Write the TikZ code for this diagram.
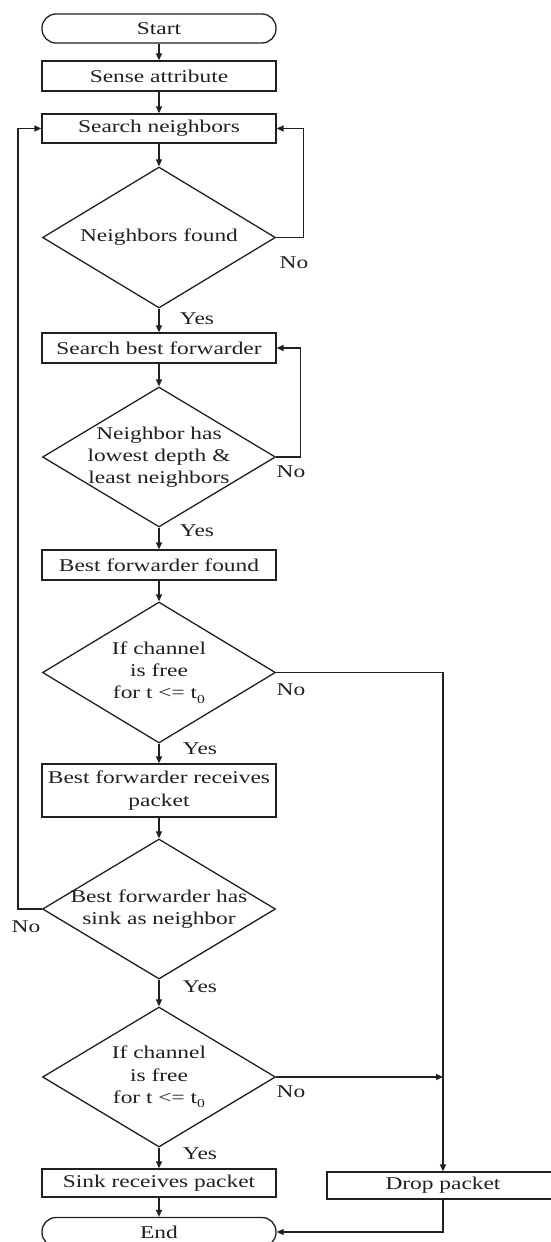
\documentclass[tikz,border=0pt]{standalone}
\usepackage{fontspec}
\setmainfont[FakeStretch=1.3]{Liberation Serif}
\usetikzlibrary{shapes.geometric,arrows.meta}
\definecolor{ink}{HTML}{202020}
\newcommand{\lowsub}[1]{\raisebox{-0.55ex}{\fontsize{12}{12}\selectfont #1}}
\begin{document}
\begin{tikzpicture}[x=1pt,y=-1pt,
  font=\fontsize{18}{22.3}\selectfont,
  base/.style={draw=ink, line width=1.3pt, inner sep=0pt, text=ink},
  procbox/.style={base, rectangle, minimum width=234pt, align=center},
  termbox/.style={base, rectangle, rounded corners=14pt, minimum width=234pt, minimum height=29pt},
  decision/.style={base, diamond, minimum width=233pt, minimum height=140pt},
  lbl/.style={inner sep=0pt, align=center, text=ink},
  flow/.style={draw=ink, line width=1.3pt, -{Triangle[length=7pt,width=6pt]}},
]
\useasboundingbox (0,0) rectangle (551,1242);
\clip (0,0) rectangle (551,1242);

% nodes
\node[termbox] (start) at (159,28.5) {Start};
\node[procbox, minimum height=30pt] (sense) at (159,76) {Sense attribute};
\node[procbox, minimum height=29pt] (sn) at (159,128.5) {Search neighbors};
\node[decision, minimum height=141pt] (d1) at (159,237.5) {};
\node[lbl] (t1) at (d1) {Neighbors found};
\node[procbox, minimum height=30pt] (sbf) at (159,348) {Search best forwarder};
\node[decision] (d2) at (159,457) {};
\node[lbl] (t2) at (d2) {Neighbor has\\lowest depth \&\\least neighbors};
\node[procbox, minimum height=30pt] (bff) at (159,565) {Best forwarder found};
\node[decision, minimum height=141pt] (d3) at (159,672.5) {};
\node[lbl] (t3) at (d3) {If channel\\is free\\for t <= t\lowsub{0}};
\node[procbox, minimum height=53pt] (bfr) at (159,790.5) {Best forwarder receives\\packet};
\node[decision] (d4) at (159,909) {};
\node[lbl] (t4) at (d4) {Best forwarder has\\sink as neighbor};
\node[decision] (d5) at (159,1077) {};
\node[lbl] (t5) at (d5) {If channel\\is free\\for t <= t\lowsub{0}};
\node[procbox, minimum height=28pt] (sink) at (159,1183) {Sink receives packet};
\node[termbox] (end) at (159,1232) {End};
\node[procbox, minimum width=232pt, minimum height=27pt] (drop) at (443,1185.5) {Drop packet};

% labels
\node[lbl] (y1) at (197,319) {Yes};
\node[lbl] (n1) at (294,263) {No};
\node[lbl] (y2) at (197,531) {Yes};
\node[lbl] (n2) at (291,472) {No};
\node[lbl] (y3) at (200,749) {Yes};
\node[lbl] (n3) at (291,690) {No};
\node[lbl] (y4) at (200,987) {Yes};
\node[lbl] (n4) at (26,927) {No};
\node[lbl] (y5) at (200,1154) {Yes};
\node[lbl] (n5) at (291,1092) {No};

% connectors
\draw[flow] (start) -- (sense);
\draw[flow] (sense) -- (sn);
\draw[flow] (sn) -- (d1);
\draw[flow] (d1) -- (sbf);
\draw[flow] (d1.east) -- ++(27,0) |- (sn.east);
\draw[flow] (sbf) -- (d2);
\draw[flow] (d2.east) -- ++(24,0) |- (sbf.east);
\draw[flow] (d2) -- (bff);
\draw[flow] (bff) -- (d3);
\draw[flow] (d3) -- (bfr);
\draw[flow] (d3.east) -| (drop.north);
\draw[flow] (bfr) -- (d4);
\draw[flow] (d4.west) -- ++(-24,0) |- (sn.west);
\draw[flow] (d4) -- (d5);
\draw[flow] (d5.east) -- (drop.north |- d5.east);
\draw[flow] (d5) -- (sink);
\draw[flow] (sink) -- (end);
\draw[flow] (drop.south) |- (end.east);
\end{tikzpicture}
\end{document}
